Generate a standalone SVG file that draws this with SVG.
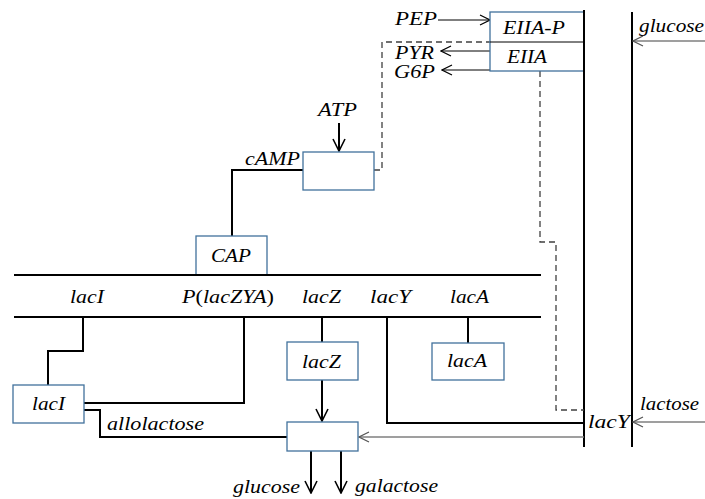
<svg xmlns="http://www.w3.org/2000/svg" width="705" height="499" viewBox="0 0 705 499">
<style>
text{font-family:'Liberation Serif','DejaVu Serif',serif;font-style:italic;font-size:19px;fill:#000}
.box{fill:#fff;stroke:#41719c;stroke-width:1.3}
.ln{fill:none;stroke:#000;stroke-width:2}
.thin{fill:none;stroke:#000;stroke-width:1}
.gray{fill:none;stroke:#7f7f7f;stroke-width:1.3}
.dash{fill:none;stroke:#404040;stroke-width:1.3;stroke-dasharray:6,4}
.up{font-style:normal}
</style>
<defs>
<marker id="ah" viewBox="0 0 12 12" refX="11" refY="6" markerWidth="12" markerHeight="12" markerUnits="userSpaceOnUse" orient="auto">
<path d="M1,1 L11,6 L1,11" fill="none" stroke="#000" stroke-width="1.2"/>
</marker>
<marker id="ahg" viewBox="0 0 12 12" refX="11" refY="6" markerWidth="12" markerHeight="12" markerUnits="userSpaceOnUse" orient="auto">
<path d="M1,1 L11,6 L1,11" fill="none" stroke="#555" stroke-width="1.2"/>
</marker>
<marker id="ahb" viewBox="0 0 14 14" refX="13" refY="7" markerWidth="14" markerHeight="14" markerUnits="userSpaceOnUse" orient="auto">
<path d="M1,1 L13,7 L1,13" fill="none" stroke="#000" stroke-width="1.6"/>
</marker>
</defs>

<g id="connectors">
<line class="ln" x1="584" y1="10" x2="584" y2="447"/>
<line class="ln" x1="632" y1="12" x2="632" y2="447"/>
<line class="ln" x1="14" y1="275" x2="541" y2="275"/>
<line class="ln" x1="14" y1="317" x2="541" y2="317"/>
<line class="thin" x1="438" y1="20" x2="490" y2="20" marker-end="url(#ah)"/>
<line class="thin" x1="490" y1="51" x2="441" y2="51" marker-end="url(#ah)"/>
<line class="thin" x1="490" y1="70" x2="442" y2="70" marker-end="url(#ah)"/>
<line class="gray" x1="705" y1="41" x2="633" y2="41" marker-end="url(#ahg)"/>
<path class="dash" d="M374,170 H382 V42 H490"/>
<path class="dash" d="M540,71 V242 H556 V410 H584"/>
<line class="ln" x1="339" y1="123" x2="339" y2="151" marker-end="url(#ahb)"/>
<path class="ln" d="M303,170 H232 V236"/>
<path class="ln" d="M83,317 V351 H48 V385"/>
<path class="ln" d="M84,403 H244 V317"/>
<path class="ln" d="M84,410 H100 V437 H287"/>
<line class="ln" x1="322" y1="317" x2="322" y2="342"/>
<line class="ln" x1="322" y1="380" x2="322" y2="421" marker-end="url(#ahb)"/>
<line class="ln" x1="468" y1="317" x2="468" y2="343"/>
<path class="ln" d="M387,317 V423 H584"/>
<line class="gray" x1="705" y1="422" x2="633" y2="422" marker-end="url(#ahg)"/>
<line class="gray" x1="584" y1="437" x2="359" y2="437" marker-end="url(#ahg)"/>
<line class="ln" x1="311" y1="451" x2="311" y2="493" marker-end="url(#ahb)"/>
<line class="ln" x1="341" y1="451" x2="341" y2="493" marker-end="url(#ahb)"/>
</g>

<g id="EIIA">
<rect class="box" x="490" y="12" width="94" height="59"/>
<line class="thin" x1="490" y1="42" x2="584" y2="42"/>
<line class="ln" x1="584" y1="10" x2="584" y2="72"/>
<text x="503" y="34" textLength="62" lengthAdjust="spacingAndGlyphs">EIIA-P</text>
<text x="507" y="63" textLength="40" lengthAdjust="spacingAndGlyphs">EIIA</text>
</g>
<g id="adenylate-cyclase">
<rect class="box" x="303" y="152" width="71" height="38"/>
</g>
<g id="CAP">
<rect class="box" x="196" y="236" width="71" height="39"/>
<line class="ln" x1="14" y1="275" x2="541" y2="275"/>
<text x="211" y="262" textLength="40" lengthAdjust="spacingAndGlyphs">CAP</text>
</g>
<g id="lacI">
<rect class="box" x="13" y="385" width="71" height="38"/>
<text x="32" y="410" textLength="33" lengthAdjust="spacingAndGlyphs">lacI</text>
</g>
<g id="lacZ">
<rect class="box" x="287" y="342" width="71" height="38"/>
<text x="302" y="368" textLength="39" lengthAdjust="spacingAndGlyphs">lacZ</text>
</g>
<g id="lacA">
<rect class="box" x="432" y="343" width="72" height="37"/>
<text x="447" y="367" textLength="40" lengthAdjust="spacingAndGlyphs">lacA</text>
</g>
<g id="enzyme">
<rect class="box" x="287" y="422" width="71" height="29"/>
</g>

<g id="labels">
<text x="395" y="25" textLength="42" lengthAdjust="spacingAndGlyphs">PEP</text>
<text x="395" y="59" textLength="39" lengthAdjust="spacingAndGlyphs">PYR</text>
<text x="394" y="78" textLength="41" lengthAdjust="spacingAndGlyphs">G6P</text>
<text x="639" y="32" textLength="65" lengthAdjust="spacingAndGlyphs">glucose</text>
<text x="318" y="116" textLength="39" lengthAdjust="spacingAndGlyphs">ATP</text>
<text x="245" y="165" textLength="55" lengthAdjust="spacingAndGlyphs">cAMP</text>
<text x="70" y="303" textLength="34" lengthAdjust="spacingAndGlyphs">lacI</text>
<text x="182" y="303" textLength="92" lengthAdjust="spacingAndGlyphs">P<tspan class="up">(</tspan>lacZYA<tspan class="up">)</tspan></text>
<text x="302" y="303" textLength="39" lengthAdjust="spacingAndGlyphs">lacZ</text>
<text x="370" y="303" textLength="41" lengthAdjust="spacingAndGlyphs">lacY</text>
<text x="450" y="303" textLength="39" lengthAdjust="spacingAndGlyphs">lacA</text>
<text x="107" y="430" textLength="97" lengthAdjust="spacingAndGlyphs">allolactose</text>
<text x="588" y="428" textLength="42" lengthAdjust="spacingAndGlyphs">lacY</text>
<text x="640" y="410" textLength="59" lengthAdjust="spacingAndGlyphs">lactose</text>
<text x="233" y="493" textLength="67" lengthAdjust="spacingAndGlyphs">glucose</text>
<text x="355" y="492" textLength="83" lengthAdjust="spacingAndGlyphs">galactose</text>
</g>
</svg>
